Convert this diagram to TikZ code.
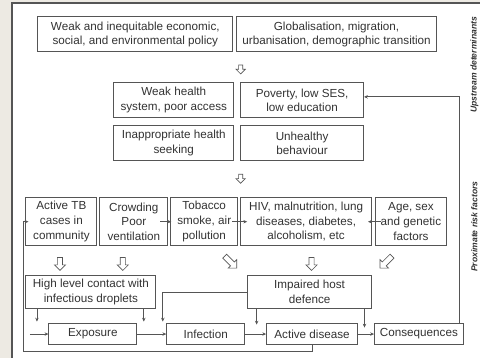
\documentclass[tikz,border=0pt]{standalone}
\usepackage{fontspec}
\setmainfont{Liberation Sans}
\usetikzlibrary{arrows.meta,shapes.arrows,calc}
\definecolor{bgc}{HTML}{EDEAE3}
\definecolor{linec}{HTML}{555555}
\definecolor{txtc}{HTML}{333333}
\begin{document}
\begin{tikzpicture}[x=1pt,y=-1pt,
 box/.style={draw=linec, line width=1pt, text=txtc, align=center, inner sep=1pt, font=\fontsize{11.7}{14.8}\selectfont},
 conn/.style={draw=linec, line width=0.75pt, -{Stealth[length=3.8pt,width=3.4pt]}},
 hollow/.style={single arrow, draw=linec, fill=white, line width=0.7pt, inner sep=2.2pt, single arrow head extend=3pt, minimum height=13pt},
 side/.style={rotate=90, text=txtc, font=\fontsize{8.6}{10}\selectfont\bfseries\itshape}
]
\fill[bgc] (0,0) rectangle (481,358);
\fill[white] (12,3) rectangle (481,358);
\draw[linec, line width=1.3pt] (12,358) -- (12,3) -- (481,3);
\useasboundingbox (0,0) rectangle (481,358);

% row 1
\node[box, minimum width=195pt, minimum height=35pt] (pol) at (135.5,34.5) {Weak and inequitable economic,\\ social, and environmental policy};
\node[box, minimum width=200pt, minimum height=35pt] (glob) at (337,34.5) {Globalisation, migration,\\ urbanisation, demographic transition};
% row 2
\node[box, minimum width=120pt, minimum height=35pt] (health) at (174,100.5) {Weak health\\ system, poor access};
\node[box, minimum width=123pt, minimum height=35pt] (pov) at (302.5,100.5) {Poverty, low SES,\\ low education};
\node[box, minimum width=120pt, minimum height=35pt] (seek) at (174,143.5) {Inappropriate health\\ seeking};
\node[box, minimum width=123pt, minimum height=35pt] (behav) at (302.5,143.5) {Unhealthy\\ behaviour};
% row 4
\node[box, minimum width=71pt, minimum height=48pt] (tb) at (61.5,222) {Active TB\\ cases in\\ community};
\node[box, minimum width=68pt, minimum height=48pt] (crowd) at (134,222) {Crowding\\ Poor\\ ventilation};
\node[box, minimum width=67pt, minimum height=48pt] (tob) at (204.5,222) {Tobacco\\ smoke, air\\ pollution};
\node[box, minimum width=131pt, minimum height=48pt] (hiv) at (306.5,222) {HIV, malnutrition, lung\\ diseases, diabetes,\\ alcoholism, etc};
\node[box, minimum width=71pt, minimum height=48pt] (age) at (411.5,222) {Age, sex\\ and genetic\\ factors};
% row 5
\node[box, minimum width=130pt, minimum height=33pt] (contact) at (91,292.5) {High level contact with\\ infectious droplets};
\node[box, minimum width=124pt, minimum height=33pt] (impaired) at (310,292.5) {Impaired host\\ defence};
% row 6
\node[box, minimum width=88pt, minimum height=21pt] (expo) at (93,334.5) {Exposure};
\node[box, minimum width=78pt, minimum height=21pt] (infect) at (206,334.5) {Infection};
\node[box, minimum width=91pt, minimum height=21pt] (active) at (312.5,334.5) {Active disease};
\node[box, minimum width=89pt, minimum height=21pt] (conseq) at (419.5,334.5) {Consequences};

% side labels
\node[side] (up) at (475,65) {Upstream determinants};
\node[side] (prox) at (475,227) {Proximate risk factors};

% hollow arrows
\node[hollow, minimum height=9pt, inner sep=1.7pt, single arrow head extend=2.6pt, rotate=-90] (ha1) at (241,68.5) {};
\node[hollow, minimum height=9pt, inner sep=1.7pt, single arrow head extend=2.6pt, rotate=-90] (ha2) at (241,178) {};
\node[hollow, rotate=-90] (ha3) at (60,263) {};
\node[hollow, rotate=-90] (ha4) at (123,263) {};
\node[hollow, minimum height=17pt, inner sep=2.4pt, single arrow head extend=3.2pt, rotate=-45] (ha5) at (230,261.5) {};
\node[hollow, rotate=-90] (ha6) at (312,263) {};
\node[hollow, minimum height=17pt, inner sep=2.4pt, single arrow head extend=3.2pt, rotate=-135] (ha7) at (387.5,261.5) {};

% main chain
\coordinate (in) at (30,334.5);
\draw[conn] (in) -- (expo.west);
\draw[conn] (expo) -- (infect);
\draw[conn] (infect) -- (active);
\draw[conn] (active) -- (conseq);

% from contact
\coordinate (c1) at (37,322);
\coordinate (c2) at (144,322);
\draw[conn] (contact.south -| c1) -- (c1);
\draw[conn] (contact.south -| c2) -- (c2);

% from impaired
\coordinate (c3) at (163,322);
\coordinate (c4) at (257,325);
\coordinate (c5) at (365,328);
\draw[conn] (impaired.west) -| (c3);
\draw[conn] (impaired.south -| c4) -- (c4);
\draw[conn] (impaired.south -| c5) -- (c5);

% feedback active -> TB cases
\coordinate (f1) at (23,352);
\draw[conn] (active.south) |- (f1) |- ([xshift=3pt]tb.west);

% consequences -> poverty
\coordinate (g1) at (460,97);
\draw[conn] (conseq.north -| g1) -- (g1) -- (pov.east |- g1);

% side arrows in row 4
\draw[conn] ([xshift=-8pt]crowd.east) -- ([xshift=1pt]tob.west);
\draw[conn] ([xshift=-6pt]tob.east) -- ([xshift=7pt]hiv.west);
\draw[conn] ([xshift=6pt]age.west) -- ([xshift=-4pt]hiv.east);
\end{tikzpicture}
\end{document}
